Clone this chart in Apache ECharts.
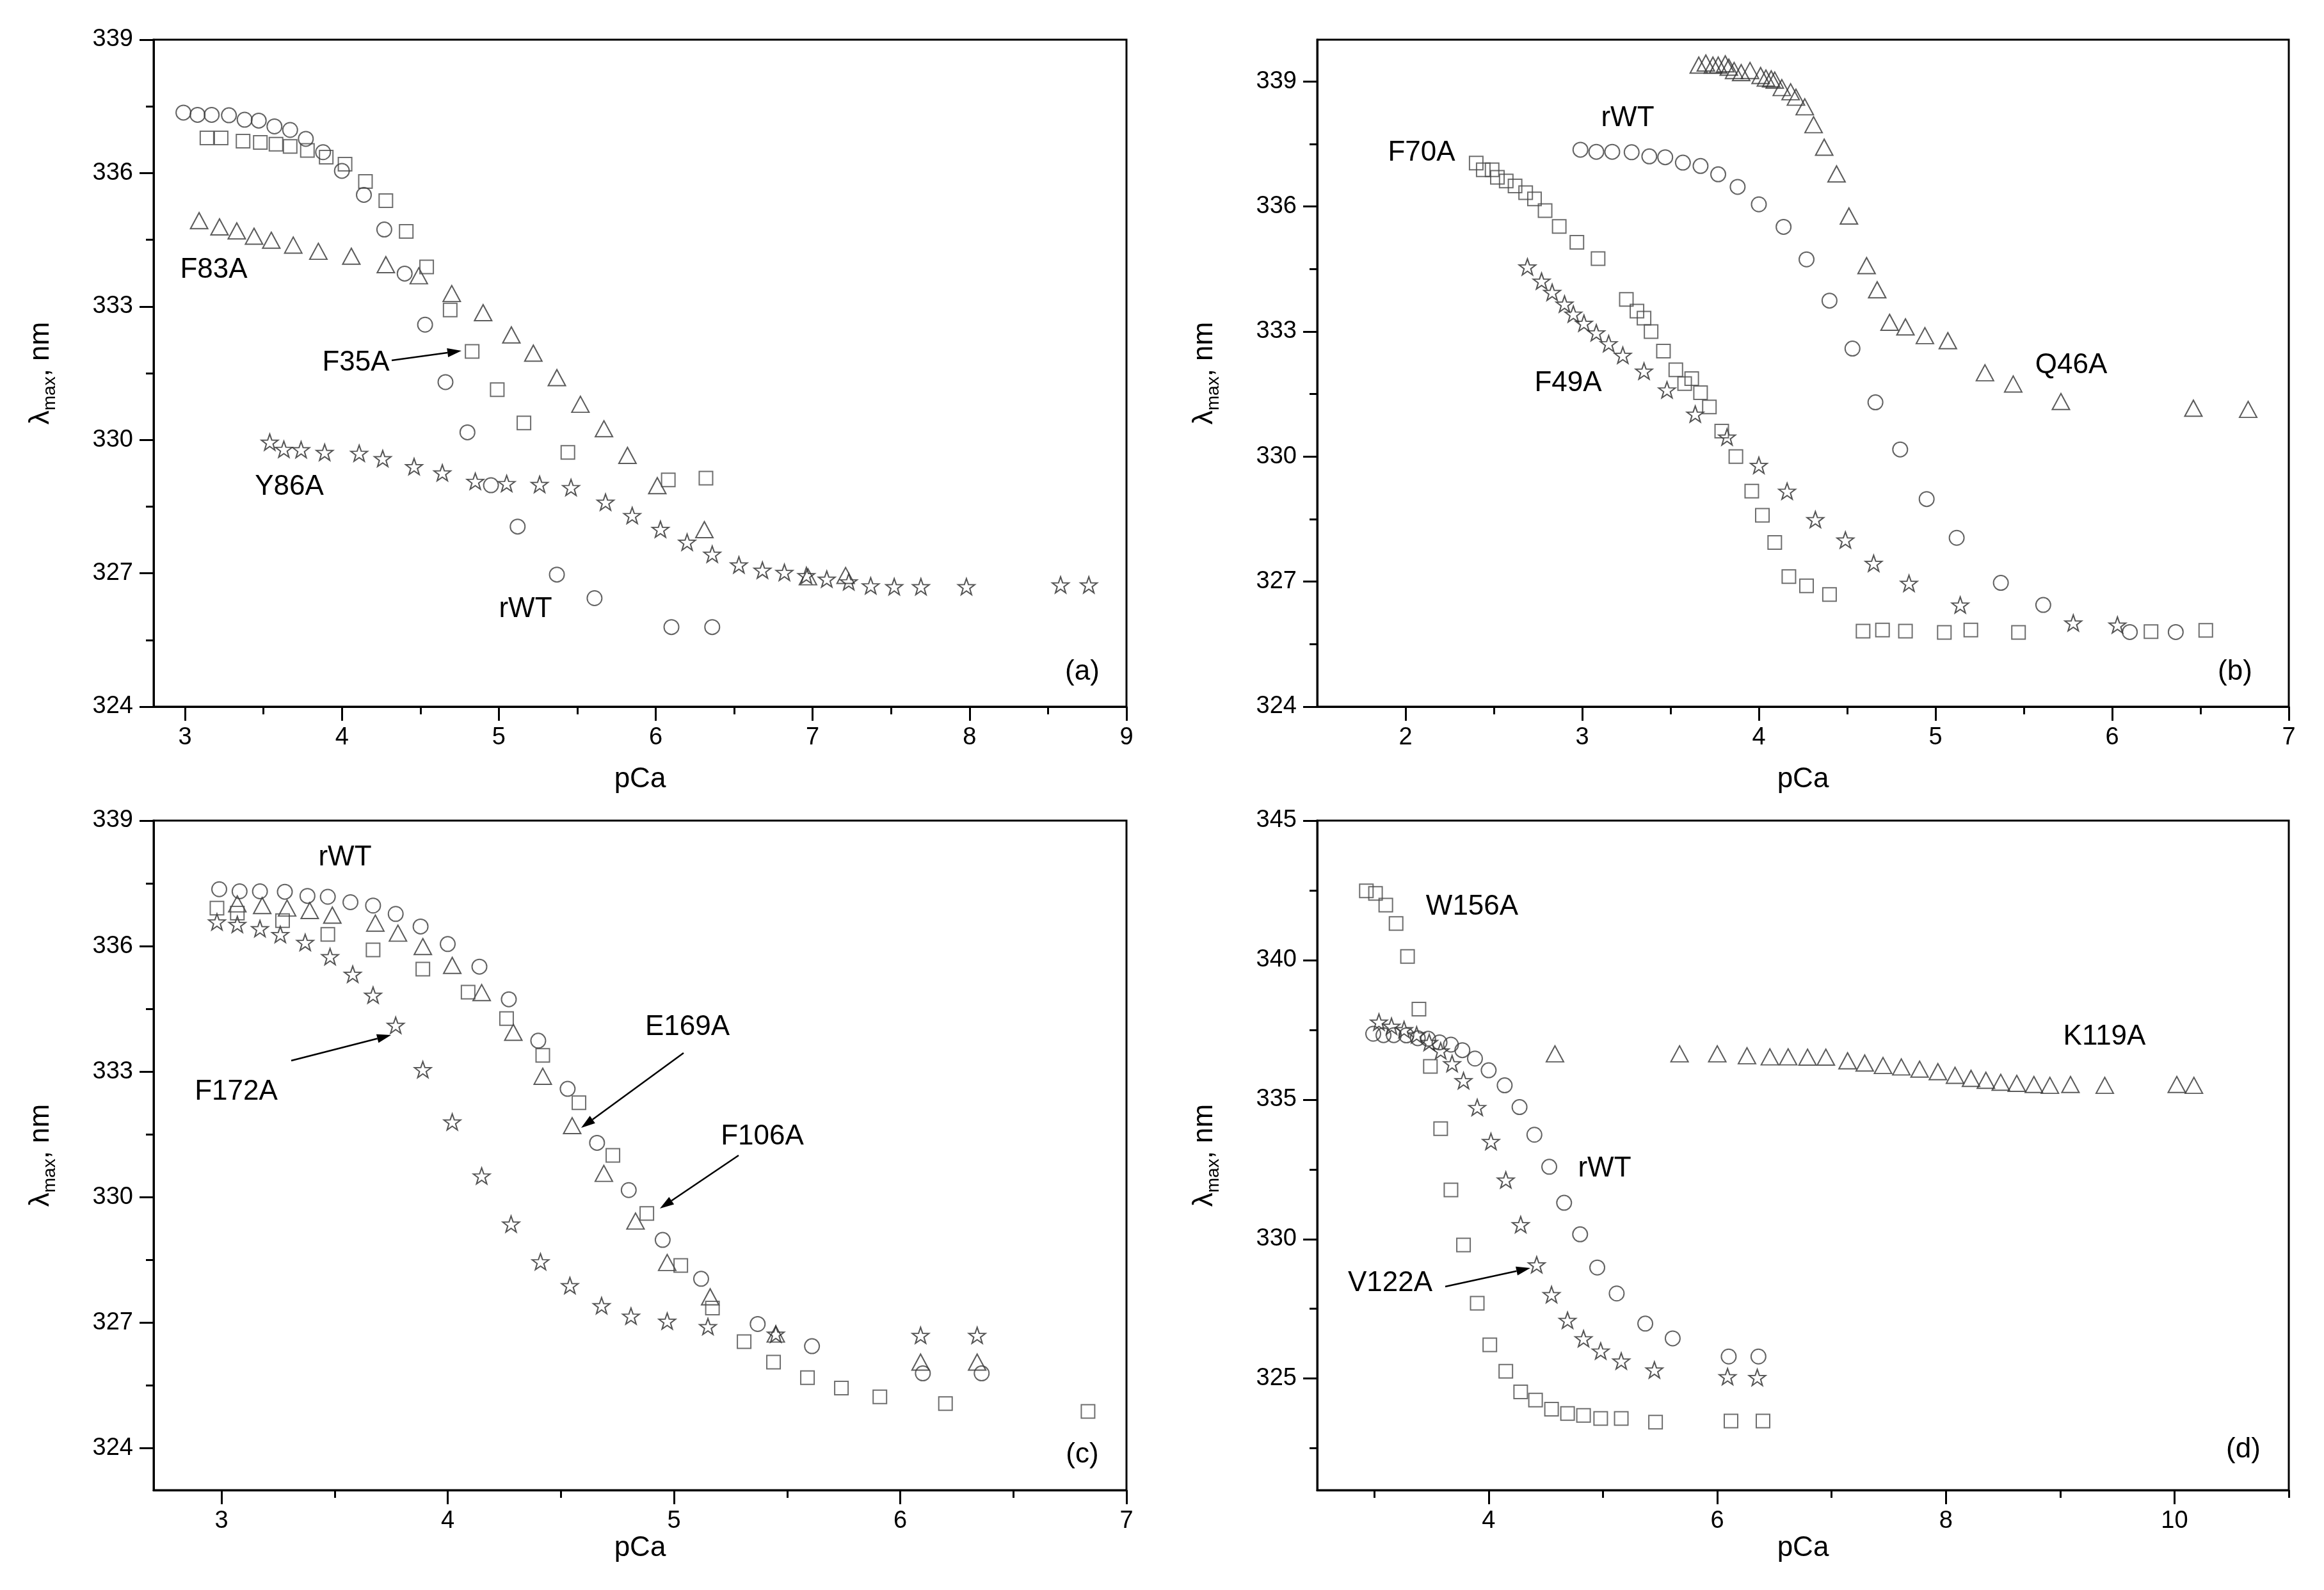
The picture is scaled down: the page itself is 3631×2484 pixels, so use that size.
<!DOCTYPE html>
<html>
<head>
<meta charset="utf-8">
<title>pCa titrations</title>
<script src="https://cdn.jsdelivr.net/npm/echarts@6/dist/echarts.min.js"></script>
<style>
html, body { margin: 0; padding: 0; background: #fff; }
#main { width: 3631px; height: 2484px; }
</style>
</head>
<body>
<div id="main"></div>
<script>
'use strict';

// ---- data: [pCa, lambda max (nm)] ----
var rWT = [[2.99,337.36],[3.08,337.31],[3.17,337.31],[3.28,337.30],[3.38,337.20],[3.47,337.18],[3.57,337.05],[3.67,336.97],[3.77,336.77],[3.88,336.47],[4.00,336.05],[4.14,335.51],[4.27,334.73],[4.40,333.74],[4.53,332.59],[4.66,331.30],[4.80,330.17],[4.95,328.98],[5.12,328.05],[5.37,326.97],[5.61,326.44],[6.10,325.79],[6.36,325.79]];

// panel (a)
var F35A = [[3.14,336.79],[3.23,336.79],[3.37,336.72],[3.48,336.69],[3.58,336.65],[3.67,336.60],[3.78,336.51],[3.90,336.36],[4.02,336.20],[4.15,335.81],[4.28,335.38],[4.41,334.69],[4.54,333.89],[4.69,332.92],[4.83,331.99],[4.99,331.13],[5.16,330.38],[5.44,329.72],[6.08,329.10],[6.32,329.14]];
var F83A = [[3.09,334.93],[3.22,334.79],[3.33,334.70],[3.44,334.58],[3.55,334.49],[3.69,334.38],[3.85,334.24],[4.06,334.13],[4.28,333.94],[4.49,333.69],[4.70,333.29],[4.90,332.86],[5.08,332.36],[5.22,331.95],[5.37,331.40],[5.52,330.80],[5.67,330.25],[5.82,329.65],[6.01,328.97],[6.31,327.98],[6.97,326.92],[7.21,326.95]];
var Y86A = [[3.54,329.95],[3.63,329.79],[3.74,329.78],[3.89,329.72],[4.11,329.70],[4.26,329.58],[4.46,329.40],[4.64,329.26],[4.85,329.07],[5.05,329.02],[5.26,329.00],[5.46,328.93],[5.68,328.60],[5.85,328.30],[6.03,327.99],[6.20,327.70],[6.36,327.43],[6.53,327.19],[6.68,327.07],[6.82,327.02],[6.96,326.95],[7.09,326.87],[7.23,326.81],[7.37,326.72],[7.52,326.70],[7.69,326.70],[7.98,326.70],[8.58,326.74],[8.76,326.74]];

// panel (b)
var F70A = [[2.40,337.04],[2.44,336.88],[2.49,336.88],[2.52,336.70],[2.57,336.61],[2.62,336.49],[2.68,336.33],[2.73,336.18],[2.79,335.90],[2.87,335.52],[2.97,335.14],[3.09,334.75],[3.25,333.77],[3.31,333.49],[3.35,333.32],[3.39,333.00],[3.46,332.53],[3.53,332.08],[3.58,331.75],[3.62,331.87],[3.67,331.53],[3.72,331.19],[3.79,330.61],[3.87,330.00],[3.96,329.17],[4.02,328.59],[4.09,327.94],[4.17,327.12],[4.27,326.90],[4.40,326.69],[4.59,325.81],[4.70,325.84],[4.83,325.81],[5.05,325.78],[5.20,325.84],[5.47,325.78],[6.22,325.80],[6.53,325.83]];
var F49A = [[2.69,334.55],[2.77,334.21],[2.83,333.94],[2.90,333.66],[2.95,333.42],[3.01,333.20],[3.08,332.97],[3.15,332.71],[3.23,332.43],[3.35,332.05],[3.48,331.60],[3.64,331.02],[3.82,330.47],[4.00,329.79],[4.16,329.17],[4.32,328.49],[4.49,328.00],[4.65,327.44],[4.85,326.96],[5.14,326.44],[5.78,326.01],[6.03,325.96]];
var Q46A = [[3.66,339.39],[3.70,339.44],[3.74,339.39],[3.77,339.39],[3.81,339.42],[3.83,339.34],[3.86,339.26],[3.90,339.21],[3.95,339.26],[4.01,339.14],[4.04,339.08],[4.07,339.06],[4.09,339.03],[4.13,338.85],[4.18,338.75],[4.21,338.62],[4.26,338.39],[4.31,337.96],[4.37,337.42],[4.44,336.78],[4.51,335.77],[4.61,334.58],[4.67,334.00],[4.74,333.22],[4.83,333.11],[4.94,332.90],[5.07,332.78],[5.28,332.01],[5.44,331.74],[5.71,331.32],[6.46,331.16],[6.77,331.13]];

// panel (c)
var E169A = [[3.07,337.01],[3.18,336.97],[3.29,336.91],[3.39,336.85],[3.49,336.74],[3.68,336.55],[3.78,336.31],[3.89,335.99],[4.02,335.54],[4.15,334.89],[4.29,333.94],[4.42,332.89],[4.55,331.71],[4.69,330.57],[4.83,329.43],[4.97,328.44],[5.16,327.62],[5.45,326.73],[6.09,326.06],[6.34,326.06]];
var F106A = [[2.98,336.91],[3.07,336.79],[3.27,336.61],[3.47,336.28],[3.67,335.91],[3.89,335.45],[4.09,334.90],[4.26,334.27],[4.42,333.39],[4.58,332.26],[4.73,331.00],[4.88,329.61],[5.03,328.37],[5.17,327.35],[5.31,326.55],[5.44,326.06],[5.59,325.69],[5.74,325.44],[5.91,325.23],[6.20,325.07],[6.83,324.88]];
var F172A = [[2.98,336.58],[3.07,336.52],[3.17,336.42],[3.26,336.28],[3.37,336.09],[3.48,335.75],[3.58,335.33],[3.67,334.83],[3.77,334.11],[3.89,333.05],[4.02,331.80],[4.15,330.51],[4.28,329.36],[4.41,328.46],[4.54,327.89],[4.68,327.41],[4.81,327.16],[4.97,327.04],[5.15,326.91],[5.45,326.73],[6.09,326.70],[6.34,326.70]];

// panel (d)
var W156A = [[2.93,342.48],[3.01,342.39],[3.10,341.97],[3.19,341.31],[3.29,340.13],[3.39,338.24],[3.49,336.19],[3.58,333.96],[3.67,331.76],[3.78,329.79],[3.90,327.70],[4.01,326.21],[4.15,325.26],[4.28,324.52],[4.41,324.23],[4.55,323.90],[4.69,323.75],[4.83,323.68],[4.98,323.57],[5.16,323.57],[5.46,323.44],[6.12,323.48],[6.40,323.48]];
var V122A = [[3.04,337.78],[3.15,337.63],[3.26,337.51],[3.37,337.32],[3.48,337.05],[3.58,336.75],[3.68,336.29],[3.78,335.68],[3.90,334.72],[4.02,333.50],[4.15,332.12],[4.28,330.52],[4.42,329.08],[4.55,328.01],[4.69,327.09],[4.83,326.43],[4.98,325.99],[5.16,325.63],[5.45,325.31],[6.09,325.07],[6.35,325.04]];
var K119A = [[4.58,336.64],[5.67,336.64],[6.00,336.64],[6.26,336.57],[6.46,336.53],[6.62,336.53],[6.79,336.52],[6.95,336.52],[7.14,336.39],[7.29,336.31],[7.45,336.22],[7.61,336.17],[7.77,336.09],[7.93,336.00],[8.08,335.87],[8.22,335.76],[8.35,335.69],[8.48,335.62],[8.62,335.58],[8.77,335.54],[8.91,335.51],[9.09,335.54],[9.39,335.51],[10.02,335.54],[10.17,335.51]];

// ---- tick values ----
var xTicksA = [3, 4, 5, 6, 7, 8, 9],  xMinorA = [3.5, 4.5, 5.5, 6.5, 7.5, 8.5];
var xTicksB = [2, 3, 4, 5, 6, 7],     xMinorB = [2.5, 3.5, 4.5, 5.5, 6.5];
var xTicksC = [3, 4, 5, 6, 7],        xMinorC = [3.5, 4.5, 5.5, 6.5];
var xTicksD = [4, 6, 8, 10],          xMinorD = [3, 5, 7, 9, 11];
var yTicks339 = [324, 327, 330, 333, 336, 339], yMinor339 = [325.5, 328.5, 331.5, 334.5, 337.5];
var yTicksD = [325, 330, 335, 340, 345],        yMinorD = [322.5, 327.5, 332.5, 337.5, 342.5];

var FONT = '"Liberation Sans", Arial, Helvetica, sans-serif';

var panels = [
	{left: 240,  top: 62,   width: 1520, height: 1042, x: [2.8, 9], y: [324, 339], xt: xTicksA, xm: xMinorA, yt: yTicks339, ym: yMinor339, gap: 92},
	{left: 2058, top: 62,   width: 1518, height: 1042, x: [1.5, 7], y: [324, 340], xt: xTicksB, xm: xMinorB, yt: yTicks339, ym: yMinor339, gap: 92},
	{left: 240,  top: 1282, width: 1520, height: 1046, x: [2.7, 7], y: [323, 339], xt: xTicksC, xm: xMinorC, yt: yTicks339, ym: yMinor339, gap: 66},
	{left: 2058, top: 1282, width: 1518, height: 1046, x: [2.5, 11], y: [321, 345], xt: xTicksD, xm: xMinorD, yt: yTicksD, ym: yMinorD, gap: 66}
];

function starPath() {
	var pts = [];
	for (var i = 0; i < 10; i++) {
		var r = i % 2 ? 20 : 50, a = Math.PI / 5 * i - Math.PI / 2;
		pts.push((50 + r * Math.cos(a)).toFixed(2) + ',' + (50 + r * Math.sin(a)).toFixed(2));
	}
	return 'path://M' + pts.join('L') + 'Z';
}

var shapes = {
	circle:   {symbol: 'circle',   size: 23, stroke: '#3c3c3c'},
	square:   {symbol: 'rect',     size: 21, stroke: '#4a4a4a'},
	triangle: {symbol: 'triangle', size: [27, 25], stroke: '#333'},
	star:     {symbol: starPath(), size: [26, 25], stroke: '#2a2a2a'}
};

var seriesDefs = [
	{p: 0, name: 'F83A',  data: F83A,  shape: 'triangle'},
	{p: 0, name: 'Y86A',  data: Y86A,  shape: 'star'},
	{p: 0, name: 'F35A',  data: F35A,  shape: 'square'},
	{p: 0, name: 'rWT',   data: rWT,   shape: 'circle'},
	{p: 1, name: 'Q46A',  data: Q46A,  shape: 'triangle'},
	{p: 1, name: 'F49A',  data: F49A,  shape: 'star'},
	{p: 1, name: 'F70A',  data: F70A,  shape: 'square'},
	{p: 1, name: 'rWT',   data: rWT,   shape: 'circle'},
	{p: 2, name: 'E169A', data: E169A, shape: 'triangle'},
	{p: 2, name: 'F172A', data: F172A, shape: 'star'},
	{p: 2, name: 'F106A', data: F106A, shape: 'square'},
	{p: 2, name: 'rWT',   data: rWT,   shape: 'circle'},
	{p: 3, name: 'K119A', data: K119A, shape: 'triangle'},
	{p: 3, name: 'V122A', data: V122A, shape: 'star'},
	{p: 3, name: 'W156A', data: W156A, shape: 'square'},
	{p: 3, name: 'rWT',   data: rWT,   shape: 'circle'}
];

// text labels and arrows inside the panels (pixel positions)
var labels = [
	['F83A', 334, 422], ['F35A', 556, 567], ['Y86A', 452, 761], ['rWT', 821, 952], ['(a)', 1691, 1050],
	['rWT', 2543, 185], ['F70A', 2221, 239], ['F49A', 2450, 599], ['Q46A', 3236, 571], ['(b)', 3492, 1050],
	['rWT', 539, 1340], ['F172A', 369, 1706], ['E169A', 1074, 1605], ['F106A', 1191, 1776], ['(c)', 1691, 2273],
	['W156A', 2300, 1417], ['K119A', 3288, 1620], ['rWT', 2507, 1826], ['V122A', 2172, 2005], ['(d)', 3505, 2265]
];
var arrows = [
	[612, 563, 721, 548],
	[455, 1657, 611, 1617],
	[1068, 1645, 908, 1762],
	[1154, 1805, 1031, 1888],
	[2258, 2010, 2391, 1981]
];

var grids = [], xAxes = [], yAxes = [], series = [], graphics = [];

panels.forEach(function (p, i) {
	grids.push({
		left: p.left, top: p.top, width: p.width, height: p.height,
		show: true, borderColor: '#000', borderWidth: 3, backgroundColor: 'transparent'
	});

	// main x axis with labels + major ticks
	xAxes.push({
		gridIndex: i, type: 'value', position: 'bottom', min: p.x[0], max: p.x[1],
		splitLine: {show: false},
		axisLine: {onZero: false, lineStyle: {color: '#000', width: 3}},
		axisTick: {length: 22, customValues: p.xt, lineStyle: {color: '#000', width: 3}},
		axisLabel: {customValues: p.xt, fontSize: 38, color: '#000', fontFamily: FONT, margin: 30},
		name: 'pCa', nameLocation: 'middle', nameGap: p.gap,
		nameTextStyle: {fontSize: 44, color: '#000', fontFamily: FONT}
	});
	// minor x ticks
	xAxes.push({
		gridIndex: i, type: 'value', position: 'bottom', min: p.x[0], max: p.x[1],
		splitLine: {show: false}, axisLine: {show: false}, axisLabel: {show: false},
		axisTick: {length: 12, customValues: p.xm, lineStyle: {color: '#000', width: 3}}
	});

	yAxes.push({
		gridIndex: i, type: 'value', position: 'left', min: p.y[0], max: p.y[1],
		splitLine: {show: false},
		axisLine: {onZero: false, lineStyle: {color: '#000', width: 3}},
		axisTick: {length: 22, customValues: p.yt, lineStyle: {color: '#000', width: 3}},
		axisLabel: {customValues: p.yt, fontSize: 38, color: '#000', fontFamily: FONT, margin: 32},
		name: '{l|λ}{s|max}{l|, nm}', nameLocation: 'middle', nameRotate: 90, nameGap: 148,
		nameTextStyle: {
			color: '#000',
			rich: {
				l: {fontSize: 44, fontFamily: FONT, color: '#000', lineHeight: 50, verticalAlign: 'top'},
				s: {fontSize: 28, fontFamily: FONT, color: '#000', lineHeight: 50, verticalAlign: 'top', padding: [22, 0, 0, 0]}
			}
		}
	});
	yAxes.push({
		gridIndex: i, type: 'value', position: 'left', min: p.y[0], max: p.y[1],
		splitLine: {show: false}, axisLine: {show: false}, axisLabel: {show: false},
		axisTick: {length: 12, customValues: p.ym, lineStyle: {color: '#000', width: 3}}
	});
});

seriesDefs.forEach(function (s) {
	var sh = shapes[s.shape];
	series.push({
		name: s.name,
		type: 'scatter',
		xAxisIndex: s.p * 2,
		yAxisIndex: s.p * 2,
		symbol: sh.symbol,
		symbolSize: sh.size,
		data: s.data,
		itemStyle: {color: 'rgba(255,255,255,0)', borderColor: sh.stroke, borderWidth: 2},
		emphasis: {disabled: true},
		silent: true
	});
});

labels.forEach(function (l) {
	graphics.push({
		type: 'text', x: l[1], y: l[2], silent: true,
		style: {
			text: l[0], fill: '#000', fontSize: 44, fontFamily: FONT,
			align: 'center', verticalAlign: 'middle', textAlign: 'center', textVerticalAlign: 'middle'
		}
	});
});

arrows.forEach(function (a) {
	var dx = a[2] - a[0], dy = a[3] - a[1],
			len = Math.sqrt(dx * dx + dy * dy),
			ux = dx / len, uy = dy / len,
			hl = 22, hw = 7,
			bx = a[2] - ux * hl, by = a[3] - uy * hl;

	graphics.push({
		type: 'line', silent: true,
		shape: {x1: a[0], y1: a[1], x2: bx, y2: by},
		style: {stroke: '#000', lineWidth: 2.5}
	});
	graphics.push({
		type: 'polygon', silent: true,
		shape: {points: [[a[2], a[3]], [bx - uy * hw, by + ux * hw], [bx + uy * hw, by - ux * hw]]},
		style: {fill: '#000'}
	});
});

var chart = echarts.init(document.getElementById('main'), null, {renderer: 'canvas'});
chart.setOption({
	animation: false,
	backgroundColor: '#fff',
	grid: grids,
	xAxis: xAxes,
	yAxis: yAxes,
	series: series,
	graphic: graphics
});
</script>
</body>
</html>
